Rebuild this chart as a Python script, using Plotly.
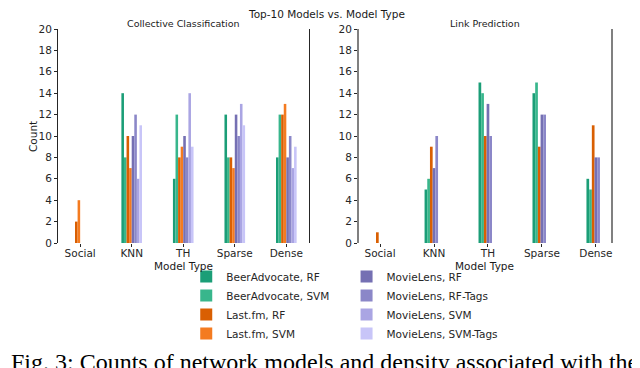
import plotly.graph_objects as go
from plotly.subplots import make_subplots

# Dataset
model_types = ['Social', 'KNN', 'TH', 'Sparse', 'Dense']

# Collective Classification counts
cc_beer_rf = [0, 14, 6, 12, 8]
cc_beer_svm = [0, 8, 12, 8, 12]
cc_lastfm_rf = [2, 10, 8, 8, 12]
cc_lastfm_svm = [4, 7, 9, 7, 13]
cc_movie_rf = [0, 10, 10, 12, 8]
cc_movie_rftags = [0, 12, 8, 10, 10]
cc_movie_svm = [0, 6, 14, 13, 7]
cc_movie_svmtags = [0, 11, 9, 11, 9]

# Link Prediction counts
lp_beer_rf = [0, 5, 15, 14, 6]
lp_beer_svm = [0, 6, 14, 15, 5]
lp_lastfm_rf = [1, 9, 10, 9, 11]
lp_movie_rf = [0, 7, 13, 12, 8]
lp_movie_rftags = [0, 10, 10, 12, 8]
lp_movie_svm = [0, 0, 0, 0, 0]
lp_movie_svmtags = [0, 0, 0, 0, 0]

names = ['BeerAdvocate, RF', 'BeerAdvocate, SVM', 'Last.fm, RF', 'Last.fm, SVM',
         'MovieLens, RF', 'MovieLens, RF-Tags', 'MovieLens, SVM', 'MovieLens, SVM-Tags']
colors = ['#1b9e77', '#38b68c', '#d95f02', '#f47b20',
          '#7570b3', '#8b87c8', '#aaa5e3', '#c8c5f8']

cc_series = [cc_beer_rf, cc_beer_svm, cc_lastfm_rf, cc_lastfm_svm,
             cc_movie_rf, cc_movie_rftags, cc_movie_svm, cc_movie_svmtags]
lp_series = [lp_beer_rf, lp_beer_svm, lp_lastfm_rf,
             lp_movie_rf, lp_movie_rftags, lp_movie_svm, lp_movie_svmtags]
lp_idx = [0, 1, 2, 4, 5, 6, 7]

FONT = 'DejaVu Sans'
W = 0.05
WIDTH, HEIGHT = 640, 368
PAGE_MARGIN = 8  # the page body adds this offset


def px(x):
    return (x - PAGE_MARGIN) / WIDTH


def py(y):
    return 1 - (y - PAGE_MARGIN) / HEIGHT


fig = make_subplots(rows=1, cols=2)

for i, vals in enumerate(cc_series):
    fig.add_trace(go.Bar(x=model_types, y=vals, name=names[i], marker_color=colors[i],
                         marker_line_width=0, width=W, offset=(i - 4) * W,
                         legend='legend' if i < 4 else 'legend2'), row=1, col=1)

for j, vals in enumerate(lp_series):
    k = lp_idx[j]
    fig.add_trace(go.Bar(x=model_types, y=vals, name=names[k], marker_color=colors[k],
                         marker_line_width=0, width=W, offset=(j - 3.5) * W,
                         showlegend=False), row=1, col=2)

ax = dict(showgrid=False, zeroline=False, ticks='outside', ticklen=3,
          tickfont=dict(family=FONT, size=10.5, color='#262626'))
fig.update_xaxes(**ax, showline=False, tickcolor='#262626', ticklabelstandoff=-3)
fig.update_yaxes(**ax, range=[0, 20], dtick=2, showline=True, mirror=True)

legend_style = dict(xanchor='left', y=0.31, yanchor='top', orientation='v',
                    font=dict(family=FONT, size=10.5, color='#262626'),
                    bgcolor='rgba(0,0,0,0)')

fig.update_layout(
    width=WIDTH, height=HEIGHT,
    margin=dict(l=0, r=0, t=0, b=0, autoexpand=False),
    plot_bgcolor='white', paper_bgcolor='white',
    barmode='overlay', showlegend=True,
    xaxis=dict(domain=[px(58), px(309)], range=[-0.43, 4.44]),
    xaxis2=dict(domain=[px(359), px(611)], range=[-0.39, 4.28]),
    yaxis=dict(domain=[py(243), py(29)], linecolor='#262626', linewidth=1, tickcolor='#262626'),
    yaxis2=dict(domain=[py(243), py(29)], linecolor='#808080', linewidth=2, tickcolor='#262626'),
    legend=dict(x=0.2785, **legend_style),
    legend2=dict(x=0.529, **legend_style),
)


def label(text, x, y, size=10.5, angle=0, family=FONT):
    fig.add_annotation(text=text, x=px(x), y=py(y), xref='paper', yref='paper',
                       showarrow=False, textangle=angle, xanchor='center', yanchor='middle',
                       font=dict(family=family, size=size, color='#1a1a1a'))


label('Top-10 Models vs. Model Type', 326, 14)
label('Collective Classification', 183.5, 23, size=9.5)
label('Link Prediction', 485, 23, size=9.5)
label('Count', 33, 137, angle=-90)
label('Model Type', 183, 266)
label('Model Type', 484, 266)

fig.add_annotation(text='Fig. 3: Counts of network models and density associated with the',
                   x=px(9), y=py(362), xref='paper', yref='paper', xanchor='left', yanchor='middle',
                   showarrow=False, font=dict(family='Liberation Serif', size=24, color='black'))

fig.write_html("out.html")
